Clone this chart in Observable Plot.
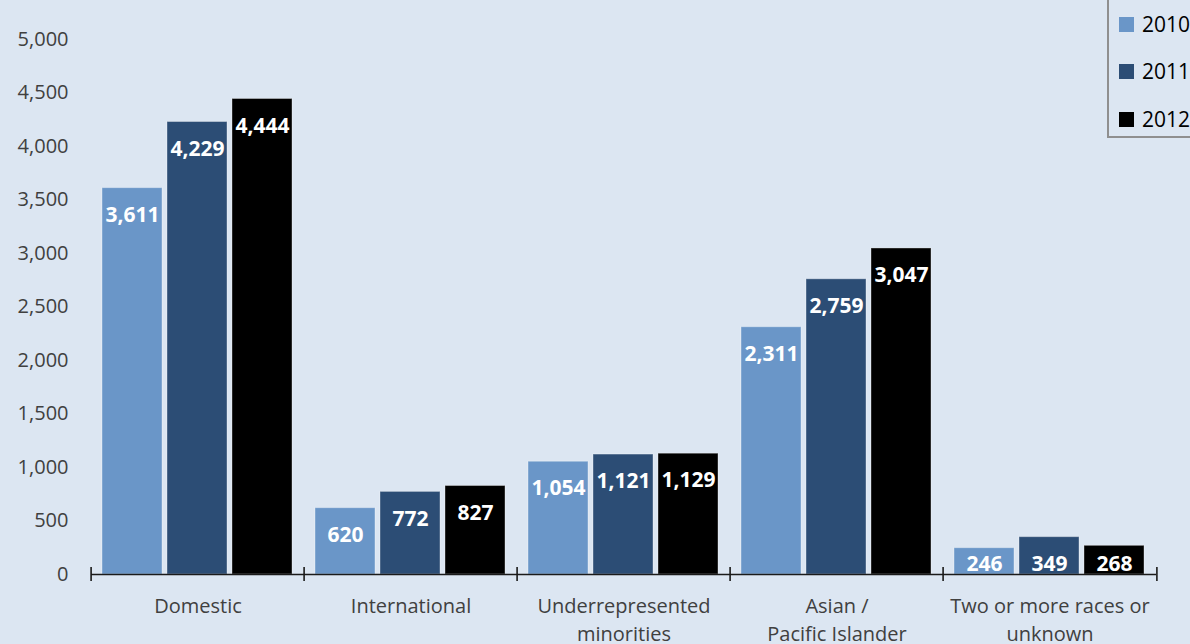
<!DOCTYPE html>
<html>
<head>
<meta charset="utf-8">
<script src="https://cdn.jsdelivr.net/npm/d3@7"></script>
<script src="https://cdn.jsdelivr.net/npm/@observablehq/plot@0.6"></script>
<style>
  html, body { margin: 0; padding: 0; background: #dce6f2; overflow: hidden; }
  #wrap { position: relative; width: 1190px; height: 644px; }
  #legend { position: absolute; left: 1107px; top: -10px; width: 120px; height: 148px;
    border: 2px solid #8f8f8f; box-sizing: border-box; font-family: "Open Sans", sans-serif; font-size: 21px; color: #000; }
  .item { position: absolute; left: 10px; display: flex; align-items: center; height: 30px; }
  .sw { width: 15px; height: 15px; margin-right: 8px; }
</style>
</head>
<body>
<div id="wrap"><div id="chart"></div><div id="legend"></div></div>
<script>
const categories = ["Domestic", "International", "Underrepresented\nminorities", "Asian /\nPacific Islander", "Two or more races or\nunknown"];
const years = ["2010", "2011", "2012"];
const v2010 = [3611, 620, 1054, 2311, 246];
const v2011 = [4229, 772, 1121, 2759, 349];
const v2012 = [4444, 827, 1129, 3047, 268];
const yTicks = [0, 500, 1000, 1500, 2000, 2500, 3000, 3500, 4000, 4500, 5000];
const colors = ["#6a96c8", "#2c4d75", "#000000"];

const series = [v2010, v2011, v2012];
const data = categories.flatMap((c, i) => years.map((yr, j) => ({category: c, year: yr, value: series[j][i]})));

const W = 1190, H = 644, ML = 89, MR = 32, MT = 39, MB = 70;
const bw = (W - ML - MR) / categories.length;
const fmt = d3.format(",");

const chart = Plot.plot({
  width: W, height: H,
  marginLeft: ML, marginRight: MR, marginTop: MT, marginBottom: MB,
  style: {background: "transparent", fontFamily: "'Open Sans', sans-serif", fontSize: "20px", color: "#404040", overflow: "visible"},
  fx: {domain: categories, padding: 0, axis: null},
  x: {domain: years, paddingInner: 0.077, paddingOuter: 0.17, axis: null},
  y: {domain: [0, 5000]},
  color: {domain: years, range: colors},
  marks: [
    Plot.axisY({ticks: yTicks, tickSize: 0, tickPadding: 23, tickFormat: fmt, fontSize: 20, fill: "#404040", label: null}),
    Plot.barY(data, {fx: "category", x: "year", y: "value", fill: "year", stroke: "#ffffff", strokeOpacity: 0.35, strokeWidth: 1, dx: -1}),
    Plot.ruleY([0], {stroke: "#1a1a1a", strokeWidth: 1.6}),
    Plot.axisFx({anchor: "bottom", tickSize: 14, dy: -7, dx: -bw / 2, tickFormat: () => "", label: null, stroke: "#1a1a1a", strokeWidth: 1.6}),
    Plot.axisFx({anchor: "bottom", ticks: [categories[categories.length - 1]], tickSize: 14, dy: -7, dx: bw / 2, tickFormat: () => "", label: null, stroke: "#1a1a1a", strokeWidth: 1.6}),
    Plot.text(data, {fx: "category", x: "year", y: d => Math.max(d.value, 350), text: d => fmt(d.value), dy: 27, dx: -1, fill: "white", fontWeight: "bold", fontSize: 21}),
    Plot.text(categories, {fx: d => d, text: d => d, frameAnchor: "bottom", lineAnchor: "top", dy: 19, lineHeight: 1.4, fontSize: 20, fill: "#404040"})
  ]
});
document.getElementById("chart").appendChild(chart);

const legend = document.getElementById("legend");
const itemTops = [17, 64, 112];
years.forEach((yr, j) => {
  const it = document.createElement("div");
  it.className = "item";
  it.style.top = itemTops[j] + "px";
  it.innerHTML = `<div class="sw" style="background:${colors[j]}"></div><span>${yr}</span>`;
  legend.appendChild(it);
});
</script>
</body>
</html>
